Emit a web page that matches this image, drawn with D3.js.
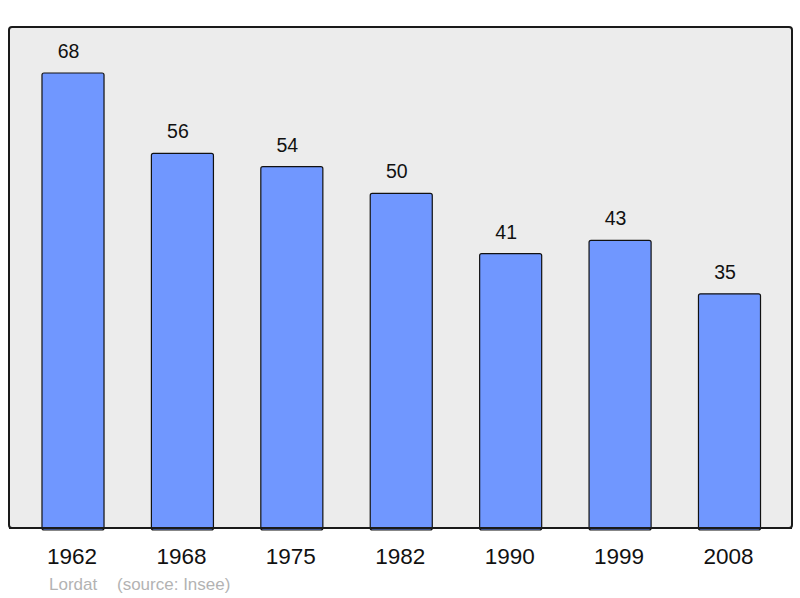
<!DOCTYPE html>
<html><head><meta charset="utf-8">
<script src="https://cdn.jsdelivr.net/npm/d3@7"></script>
<style>html,body{margin:0;padding:0;background:#fff;}svg{display:block;}</style>
</head><body>
<svg id="c" width="800" height="598"></svg>
<script>
const years = ["1962","1968","1975","1982","1990","1999","2008"];
const population = [68,56,54,50,41,43,35];
const title = "Lordat";
const source = "(source: Insee)";

const svg = d3.select("#c");
const font = "'Liberation Sans', Arial, sans-serif";
const plot = {x0: 9, y0: 27, x1: 792, y1: 528};

svg.append("rect")
  .attr("x", plot.x0).attr("y", plot.y0)
  .attr("width", plot.x1 - plot.x0).attr("height", plot.y1 - plot.y0)
  .attr("rx", 3).attr("fill", "#ececec").attr("stroke", "#1a1a1a").attr("stroke-width", 2);

const x = d3.scaleBand().domain(years).range([18.3, 784.2]).paddingInner(0.433).paddingOuter(0.2165);
const y = d3.scaleLinear().domain([0, 68]).range([plot.y1, 73]);

const data = years.map((yr, i) => ({yr, v: population[i]}));

svg.selectAll("rect.bar").data(data).enter().append("rect")
  .attr("class", "bar")
  .attr("x", d => x(d.yr)).attr("y", d => y(d.v))
  .attr("width", x.bandwidth()).attr("height", d => y(0) - y(d.v) + 2)
  .attr("rx", 2)
  .attr("fill", "#7097ff").attr("stroke", "#111").attr("stroke-width", 1.2);

svg.append("line").attr("x1", plot.x0).attr("x2", plot.x1).attr("y1", plot.y1).attr("y2", plot.y1)
  .attr("stroke", "#1a1a1a").attr("stroke-width", 2);

svg.selectAll("text.val").data(data).enter().append("text")
  .attr("class", "val")
  .attr("x", d => x(d.yr) + x.bandwidth() / 2 - 4.5).attr("y", d => y(d.v) - 15)
  .attr("text-anchor", "middle").attr("font-family", font).attr("font-size", 19.5).attr("fill", "#111")
  .text(d => d.v);

const xAxis = d3.axisBottom(x).tickSize(0).tickPadding(0);
const gx = svg.append("g").attr("transform", `translate(0,${plot.y1})`).call(xAxis);
gx.select(".domain").remove();
gx.selectAll("text").attr("font-family", font).attr("font-size", 22.5).attr("fill", "#111")
  .attr("dy", null).attr("y", 36).attr("dx", -1);

svg.append("text").attr("x", 49).attr("y", 590).attr("font-family", font).attr("font-size", 17)
  .attr("fill", "#b3b3b3").text(title);
svg.append("text").attr("x", 117).attr("y", 590).attr("font-family", font).attr("font-size", 17)
  .attr("fill", "#b3b3b3").text(source);
</script>
</body></html>
